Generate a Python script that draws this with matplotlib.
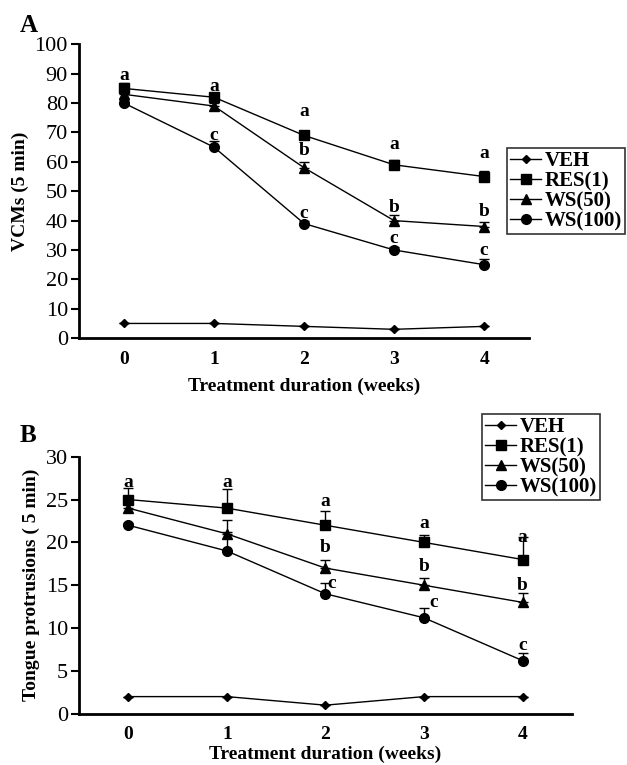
import numpy as np
import matplotlib
matplotlib.use('Agg')
import matplotlib.pyplot as plt
from matplotlib.lines import Line2D

plt.rcParams['font.family'] = ['Liberation Serif', 'DejaVu Serif']

weeks = [0, 1, 2, 3, 4]
groups = ['VEH', 'RES(1)', 'WS(50)', 'WS(100)']
markers = ['D', 's', '^', 'o']
msizes = [4.5, 7, 6.5, 7]

# panel A: VCMs
vcm_means = {
    'VEH': [5, 5, 4, 3, 4],
    'RES(1)': [85, 82, 69, 59, 55],
    'WS(50)': [83, 79, 58, 40, 38],
    'WS(100)': [80, 65, 39, 30, 25],
}
vcm_err = {
    'VEH': [0, 0, 0, 0, 0],
    'RES(1)': [2, 1, 1, 1.5, 2],
    'WS(50)': [1, 1, 2, 2, 1.5],
    'WS(100)': [1, 2, 1, 1, 2],
}
vcm_letters = [
    (0, 89.5, 'a'), (1, 85.5, 'a'), (1, 69, 'c'),
    (2, 77, 'a'), (2, 64, 'b'), (2, 42.5, 'c'),
    (3, 66, 'a'), (3, 44.5, 'b'), (3, 34, 'c'),
    (4, 63, 'a'), (4, 43, 'b'), (4, 30, 'c'),
]

# panel B: tongue protrusions
tp_means = {
    'VEH': [2, 2, 1, 2, 2],
    'RES(1)': [25, 24, 22, 20, 18],
    'WS(50)': [24, 21, 17, 15, 13],
    'WS(100)': [22, 19, 14, 11.2, 6.2],
}
tp_err = {
    'VEH': [0, 0, 0, 0, 0],
    'RES(1)': [1.4, 2.2, 1.7, 0.9, 2.6],
    'WS(50)': [0.5, 1.6, 1.0, 0.9, 1.1],
    'WS(100)': [0.3, 2.2, 1.3, 1.2, 0.9],
}
tp_letters = [
    (0, 27, 'a'), (1, 27, 'a'),
    (2, 24.8, 'a'), (2, 19.4, 'b'), (2.06, 15.2, 'c'),
    (3, 22.2, 'a'), (3, 17.2, 'b'), (3.1, 13, 'c'),
    (4, 20.6, 'a'), (4, 15, 'b'), (4, 8, 'c'),
]


def draw_panel(ax, means, errs, letters, ymax, ystep, ylabel, xpad):
    for g, m, ms in zip(groups, markers, msizes):
        y = np.array(means[g])
        e = np.array(errs[g])
        ax.errorbar(weeks, y, yerr=[np.zeros_like(e), e], color='black',
                    marker=m, markersize=ms, linewidth=1, elinewidth=1,
                    capsize=3.5, capthick=1)
    for x, y, t in letters:
        ax.text(x, y, t, ha='center', va='center', fontsize=14,
                fontweight='bold')
    ax.set_xlim(-0.5, 4.5)
    ax.set_ylim(0, ymax)
    ax.set_yticks(np.arange(0, ymax + 1, ystep))
    ax.set_xticks(weeks)
    ax.spines['top'].set_visible(False)
    ax.spines['right'].set_visible(False)
    ax.spines['left'].set_linewidth(2)
    ax.spines['bottom'].set_linewidth(2)
    ax.tick_params(axis='y', direction='out', length=6, width=1.5,
                   labelsize=16, pad=2)
    ax.tick_params(axis='x', length=0, labelsize=14, pad=9)
    for lab in ax.get_xticklabels():
        lab.set_fontweight('bold')
    ax.set_xlabel('Treatment duration (weeks)', fontsize=14,
                  fontweight='bold', labelpad=xpad)
    ax.set_ylabel(ylabel, fontsize=14, fontweight='bold', labelpad=4)


fig = plt.figure(figsize=(6.27, 7.65), dpi=100)
ax1 = fig.add_axes([0.126, 0.558, 0.718, 0.384])
ax2 = fig.add_axes([0.126, 0.067, 0.786, 0.336])

draw_panel(ax1, vcm_means, vcm_err, vcm_letters, 100, 10, 'VCMs (5 min)', 7)
draw_panel(ax2, tp_means, tp_err, tp_letters, 30, 5,
           'Tongue protrusions ( 5 min)', 2)

handles = [Line2D([], [], color='black', marker=m, markersize=ms, linewidth=1)
           for m, ms in zip(markers, msizes)]
leg_kw = dict(frameon=True, fancybox=False, edgecolor='black',
              handlelength=1.5, handletextpad=0.15, borderpad=0.15,
              labelspacing=0.0, borderaxespad=0,
              prop={'family': 'Liberation Serif', 'weight': 'bold',
                    'size': 15})
l1 = fig.legend(handles, groups, loc='upper left',
                bbox_to_anchor=(507 / 627, 1 - 148 / 765), **leg_kw)
l2 = fig.legend(handles, groups, loc='upper left',
                bbox_to_anchor=(482 / 627, 1 - 414 / 765), **leg_kw)
for l in (l1, l2):
    l.get_frame().set_linewidth(1.2)

fig.text(20 / 627, 1 - 25 / 765, 'A', fontsize=18, fontweight='bold',
         va='center')
fig.text(20 / 627, 1 - 435 / 765, 'B', fontsize=18, fontweight='bold',
         va='center')

fig.savefig('out.png', dpi=100)
